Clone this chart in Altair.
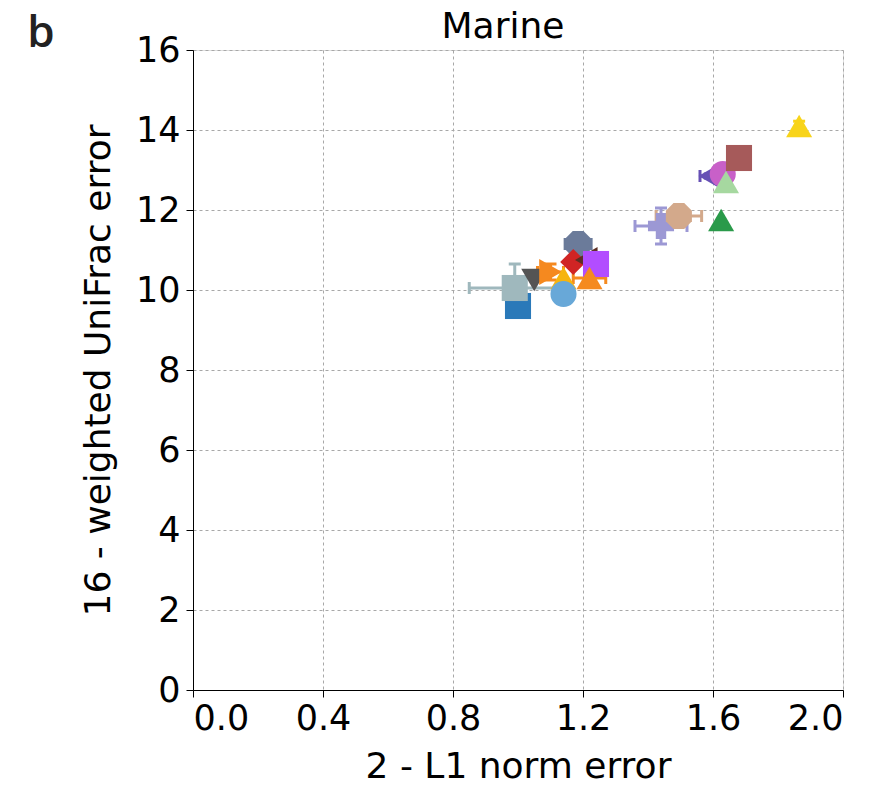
import altair as alt
import pandas as pd

# ---- data (panel b, Marine) ----
names = ["P01", "P02", "P03", "P04", "P05", "P06", "P07", "P08", "P09", "P10",
         "P11", "P12", "P13", "P14", "P15", "P16", "P17", "P18", "P19"]
l1_error = [1.00, 0.99, 1.05, 1.10, 1.14, 1.14, 1.185, 1.17, 1.21, 1.24,
            1.22, 1.44, 1.495, 1.59, 1.63, 1.64, 1.625, 1.68, 1.865]
unifrac_error = [9.6, 10.05, 10.25, 10.45, 10.3, 9.9, 11.15, 10.7, 10.75, 10.65,
                 10.3, 11.6, 11.85, 12.85, 12.9, 12.7, 11.75, 13.3, 14.1]
l1_err_bar = [0.0, 0.14, 0.0, 0.04, 0.0, 0.0, 0.04, 0.0, 0.0, 0.02,
              0.05, 0.08, 0.07, 0.03, 0.0, 0.0, 0.0, 0.0, 0.0]
unifrac_err_bar = [0.0, 0.6, 0.0, 0.2, 0.0, 0.0, 0.1, 0.0, 0.0, 0.1,
                   0.1, 0.45, 0.1, 0.05, 0.0, 0.0, 0.0, 0.0, 0.12]

x_ticks = [0.0, 0.4, 0.8, 1.2, 1.6, 2.0]
y_ticks = [0, 2, 4, 6, 8, 10, 12, 14, 16]
panel_title = "Marine"
panel_letter = "b"

# ---- styles ----
OCT = "M-0.41,-1L0.41,-1L1,-0.41L1,0.41L0.41,1L-0.41,1L-1,0.41L-1,-0.41Z"
colors = ["#2a79b9", "#9fb8bd", "#545454", "#f5891f", "#f6b40e", "#68a8d8", "#6b7b9a",
          "#d02424", "#5c2e22", "#b24dff", "#f58a1f", "#9c98d4", "#d3a98b", "#6650b5",
          "#c860c8", "#a6d8a0", "#2a9a4a", "#a65a5a", "#f8d41a"]
shapes = ["square", "square", "triangle-down", "triangle-right", "triangle-up", "circle", OCT,
          "diamond", "triangle-left", "square", "triangle-up", "cross", OCT, "triangle-left",
          "circle", "triangle-up", "triangle-up", "square", "triangle-up"]

FONT = "DejaVu Sans"

df = pd.DataFrame({
    "name": names, "x": l1_error, "y": unifrac_error,
    "xe": l1_err_bar, "ye": unifrac_err_bar,
})
df["xlo"] = df["x"] - df["xe"]
df["xhi"] = df["x"] + df["xe"]
df["ylo"] = df["y"] - df["ye"]
df["yhi"] = df["y"] + df["ye"]

xs = alt.Scale(domain=[0, 2], nice=False, zero=False)
ys = alt.Scale(domain=[0, 16], nice=False, zero=False)
col = alt.Color("name:N", scale=alt.Scale(domain=names, range=colors), legend=None)

xaxis = alt.Axis(values=x_ticks, format=".1f", title="2 - L1 norm error",
                 grid=True, gridDash=[3, 3], gridColor="#a8a8a8", gridWidth=1,
                 tickColor="black", tickSize=7, labelPadding=4,
                 labelFontSize=35, titleFontSize=36, titleFontWeight="normal",
                 labelFont=FONT, titleFont=FONT, domainColor="black",
                 labelColor="black", titleColor="black", titlePadding=13)
yaxis = alt.Axis(values=y_ticks, format="d", title="16 - weighted UniFrac error",
                 grid=True, gridDash=[3, 3], gridColor="#a8a8a8", gridWidth=1,
                 tickColor="black", tickSize=7, labelPadding=6,
                 labelFontSize=35, titleFontSize=36, titleFontWeight="normal",
                 labelFont=FONT, titleFont=FONT, domainColor="black",
                 labelColor="black", titleColor="black", titlePadding=18)

xerr_df = df[df["xe"] > 0]
yerr_df = df[df["ye"] > 0]

x_rules = alt.Chart(xerr_df).mark_rule(strokeWidth=3).encode(
    x=alt.X("xlo:Q", scale=xs, axis=xaxis), x2="xhi:Q",
    y=alt.Y("y:Q", scale=ys, axis=yaxis), color=col)
y_rules = alt.Chart(yerr_df).mark_rule(strokeWidth=3).encode(
    x=alt.X("x:Q", scale=xs), y=alt.Y("ylo:Q", scale=ys), y2="yhi:Q", color=col)

cap_v = "M0,-1L0,1"
cap_h = "M-1,0L1,0"
def caps(data, xf, yf, shp):
    return alt.Chart(data).mark_point(shape=shp, size=144, strokeWidth=3,
                                      filled=False, opacity=1).encode(
        x=alt.X(xf, scale=xs), y=alt.Y(yf, scale=ys), color=col)

points = alt.Chart(df).mark_point(filled=True, size=680, opacity=1).encode(
    x=alt.X("x:Q", scale=xs), y=alt.Y("y:Q", scale=ys), color=col,
    shape=alt.Shape("name:N", scale=alt.Scale(domain=names, range=shapes), legend=None))

label_b = alt.Chart(pd.DataFrame({"t": [panel_letter]})).mark_text(
    font="Open Sans", fontSize=44, fontWeight=600, color="#222222",
    align="center", baseline="middle").encode(
    text="t:N", x=alt.value(-152), y=alt.value(-16))

title_txt = alt.Chart(pd.DataFrame({"t": [panel_title]})).mark_text(
    font=FONT, fontSize=36, color="black", align="center",
    baseline="alphabetic").encode(
    text="t:N", x=alt.value(310), y=alt.value(-12))

chart = alt.layer(x_rules, y_rules,
                  caps(xerr_df, "xlo:Q", "y:Q", cap_v), caps(xerr_df, "xhi:Q", "y:Q", cap_v),
                  caps(yerr_df, "x:Q", "ylo:Q", cap_h), caps(yerr_df, "x:Q", "yhi:Q", cap_h),
                  points, label_b, title_txt).properties(
    width=650, height=640,
    autosize=alt.AutoSizeParams(type="none"),
    padding={"left": 185, "top": 42, "right": 20, "bottom": 96},
).configure_view(stroke="black", strokeWidth=1.5).configure(background="white")

chart.save("out.html", embed_options={"renderer": "svg", "actions": False})
